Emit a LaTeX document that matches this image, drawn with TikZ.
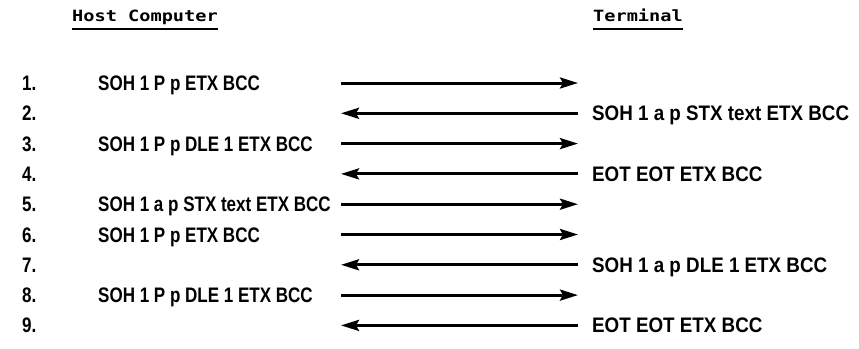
\documentclass[tikz,border=0pt]{standalone}
\usepackage{fontspec}
\setmainfont[FakeStretch=0.81]{Liberation Sans}
\newfontfamily\wideface[FakeStretch=0.895]{Liberation Sans}
\newfontfamily\hdrfont[FakeStretch=1.2]{DejaVu Sans Mono}
\usetikzlibrary{arrows.meta}
\begin{document}
\begin{tikzpicture}[x=1pt,y=-1pt,
  msg/.style={anchor=base west, inner sep=0pt, font=\fontsize{21}{21}\selectfont\bfseries},
  tmsg/.style={anchor=base west, inner sep=0pt, font=\wideface\fontsize{21}{21}\selectfont\bfseries},
  num/.style={msg},
  hdr/.style={anchor=base west, inner sep=0pt, font=\hdrfont\fontsize{15.5}{15.5}\selectfont\bfseries},
  uline/.style={line width=2pt},
  sig/.style={line width=3pt, -{Stealth[length=18pt,width=11pt,inset=3pt]}}]
\useasboundingbox (0,0) rectangle (859,348);
% headers
\node[hdr] (hc) at (72,21.5) {Host Computer};
\node[hdr] (tm) at (593,21.5) {Terminal};
\draw[uline] ([yshift=-7.5pt]hc.base west) -- ([yshift=-7.5pt]hc.base east);
\draw[uline] ([yshift=-7.5pt]tm.base west) -- ([yshift=-7.5pt]tm.base east);
% row numbers
\foreach \k in {1,...,9}{
  \node[num] (n\k) at (22,{90.5+(\k-1)*30.3}) {\k.};
  \coordinate (a\k) at (341,{83+(\k-1)*30.3});
  \coordinate (b\k) at (578,{83+(\k-1)*30.3});
}
% host messages
\node[msg] (h1) at (98,90.5)  {SOH 1 P p ETX BCC};
\node[msg] (h3) at (98,151.1) {SOH 1 P p DLE 1 ETX BCC};
\node[msg] (h5) at (98,211.7) {SOH 1 a p STX text ETX BCC};
\node[msg] (h6) at (98,242)   {SOH 1 P p ETX BCC};
\node[msg] (h8) at (98,302.6) {SOH 1 P p DLE 1 ETX BCC};
% terminal messages
\node[tmsg] (t2) at (592,120.8) {SOH 1 a p STX text ETX BCC};
\node[tmsg] (t4) at (592,181.4) {EOT EOT ETX BCC};
\node[tmsg] (t7) at (592,272.3) {SOH 1 a p DLE 1 ETX BCC};
\node[tmsg] (t9) at (592,332.9) {EOT EOT ETX BCC};
% arrows
\draw[sig] (a1) -- (b1);
\draw[sig] (b2) -- (a2);
\draw[sig] (a3) -- (b3);
\draw[sig] (b4) -- (a4);
\draw[sig] (a5) -- (b5);
\draw[sig] (a6) -- (b6);
\draw[sig] (b7) -- (a7);
\draw[sig] (a8) -- (b8);
\draw[sig] (b9) -- (a9);
\end{tikzpicture}
\end{document}
